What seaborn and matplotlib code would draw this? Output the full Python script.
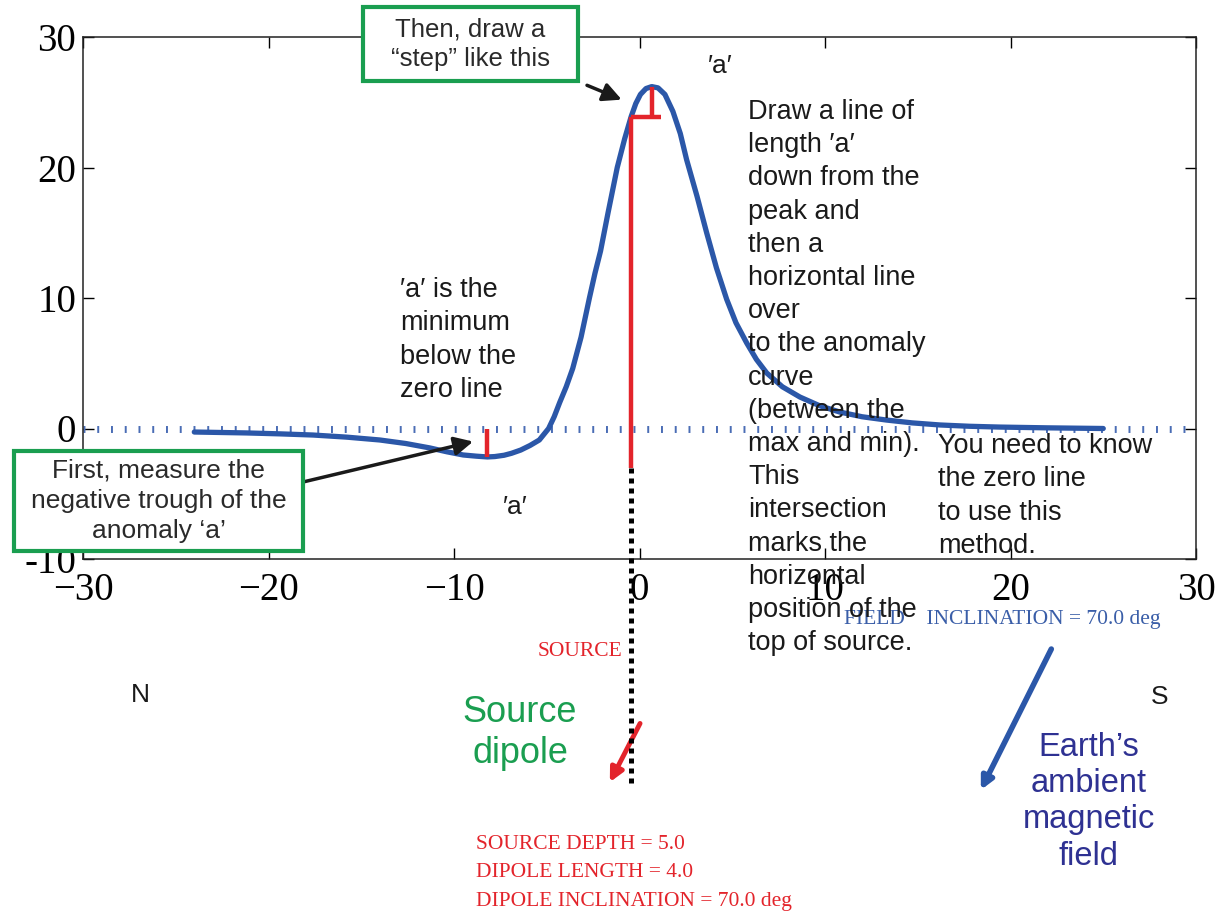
import matplotlib
matplotlib.use('Agg')
import matplotlib.pyplot as plt
from matplotlib.patches import Rectangle
import seaborn as sns
import pandas as pd

# ── Data ─────────────────────────────────────────────────────
dist = [-24.0, -21.2, -19.4, -17.6, -15.8, -14.0, -12.6, -11.3, -10.4, -9.5,
        -8.8, -8.2, -7.8, -7.3, -6.9, -6.4, -5.9, -5.4, -4.9, -4.6,
        -4.3, -3.95, -3.6, -3.15, -2.7, -2.4, -2.1, -1.7, -1.2, -0.8,
        -0.45, -0.2, 0.05, 0.35, 0.66, 1.0, 1.37, 1.8, 2.2, 2.54,
        3.1, 3.62, 4.15, 4.70, 5.2, 5.78, 6.3, 6.86, 7.7, 8.65,
        9.7, 10.8, 12.0, 13.3, 14.7, 16.2, 17.8, 19.4, 22.0, 25.0]
anomaly = [-0.27, -0.34, -0.41, -0.50, -0.66, -0.88, -1.15, -1.49, -1.78, -2.03,
           -2.12, -2.18, -2.15, -2.05, -1.90, -1.65, -1.30, -0.88, 0.0, 0.9,
           2.0, 3.2, 4.6, 7.0, 10.0, 11.9, 13.6, 16.5, 20.0, 22.2,
           23.9, 24.9, 25.6, 26.05, 26.2, 26.1, 25.6, 24.3, 22.6, 20.6,
           17.8, 15.0, 12.3, 9.9, 8.1, 6.55, 5.3, 4.25, 3.2, 2.41,
           1.75, 1.26, 0.9, 0.65, 0.43, 0.27, 0.17, 0.11, 0.05, 0.0]

x_ticks = [-30, -20, -10, 0, 10, 20, 30]
x_tick_labels = ['\u221230', '\u221220', '\u221210', '0', '10', '20', '30']
y_ticks = [-10, 0, 10, 20, 30]
y_tick_labels = ['-10', '0', '10', '20', '30']

peak_x, peak_y = 0.66, 26.2
trough_x, trough_y = -8.24, -2.18
step_y = 23.9
step_right = 1.16
source_x = -0.47
source_top = -3.0
source_bottom = -27.3

dipole_tail = (0.03, -22.6)
dipole_head = (-1.6, -27.1)
field_tail = (22.2, -16.9)
field_head = (18.4, -27.7)

W, H = 1218, 915

# ── Style ────────────────────────────────────────────────────
sns.set_style('ticks')
plt.rcParams['font.family'] = ['Liberation Sans', 'DejaVu Sans']
SERIF = ['Liberation Serif', 'DejaVu Serif']
BLUE = '#2b57a8'
RED = '#e3242b'
GREEN = '#1a9e50'
TXT = '#1a1a1a'

fig = plt.figure(figsize=(W / 100, H / 100), dpi=100)
ax = fig.add_axes([83 / W, 1 - 559 / H, 1113 / W, 522 / H])

df = pd.DataFrame({'x': dist, 'y': anomaly})
sns.lineplot(data=df, x='x', y='y', ax=ax, color=BLUE, linewidth=3.8,
             sort=False, zorder=3)

# zero line drawn as little vertical bars
ax.axhline(0, color='#4a6db5', linewidth=5, dashes=(0.28, 1.7),
           dash_capstyle='butt', zorder=2)

# step: down 'a' from the peak, then across to the curve
red = dict(color=RED, lw=3.2, zorder=4, solid_capstyle='butt')
ax.plot([peak_x, peak_x], [peak_y, step_y], **red)
ax.plot([source_x, step_right], [step_y, step_y], **red)
ax.plot([source_x, source_x], [step_y, source_top], **red)
ax.plot([trough_x, trough_x], [0, trough_y], **red)

# source position dotted line, runs below the axes
ax.plot([source_x, source_x], [source_top, source_bottom], color='black',
        lw=3.6, dashes=(1, 1), clip_on=False, zorder=4)

ax.set_xlim(-30, 30)
ax.set_ylim(-10, 30)
ax.set_xticks(x_ticks)
ax.set_xticklabels(x_tick_labels, family=SERIF, fontsize=28)
ax.set_yticks(y_ticks)
ax.set_yticklabels(y_tick_labels, family=SERIF, fontsize=28)
ax.tick_params(direction='in', length=8, width=1, top=True, right=True,
               colors='black')
ax.tick_params(axis='x', pad=9)
ax.tick_params(axis='y', pad=5)
ax.set_xlabel('')
ax.set_ylabel('')
for s in ax.spines.values():
    s.set_linewidth(1.1)
    s.set_color('#222222')

# ── Green boxes (sit on top of the frame) ────────────────────
for bx, by, bw, bh in [(363, 81, 215, 74), (14, 551, 289, 100)]:
    fig.add_artist(Rectangle((bx / W, 1 - by / H), bw / W, bh / H,
                             transform=fig.transFigure, fc='white', ec=GREEN,
                             lw=3, zorder=5))
fig.text(470.5 / W, 1 - 44 / H, 'Then, draw a\n\u201cstep\u201d like this',
         ha='center', va='center', fontsize=18.5, color='#2a2a2a',
         linespacing=1.28, zorder=6)
fig.text(158.5 / W, 1 - 501 / H,
         'First, measure the\nnegative trough of the\nanomaly \u2018a\u2019',
         ha='center', va='center', fontsize=19, color='#2a2a2a',
         linespacing=1.32, zorder=6)

arrow = dict(arrowstyle='-|>', color='#1a1a1a', lw=2.5, mutation_scale=28,
             shrinkA=0, shrinkB=0)
ax.annotate('', xy=(-8.97, -1.0), xytext=(-18.14, -4.1), arrowprops=arrow,
            zorder=5)
ax.annotate('', xy=(-0.96, 25.2), xytext=(-2.83, 26.3), arrowprops=arrow,
            zorder=5)

# ── Explanatory text ─────────────────────────────────────────
ax.text(4.34, 27.8, '\u2032a\u2032', ha='center', va='center', fontsize=19,
        color=TXT)
ax.text(-6.71, -6.0, '\u2032a\u2032', ha='center', va='center', fontsize=19,
        color=TXT)
ax.text(-12.9, 6.78, '\u2032a\u2032 is the\nminimum\nbelow the\nzero line',
        ha='left', va='center', fontsize=19.5, color=TXT, linespacing=1.36)
ax.text(5.85, 3.9,
        'Draw a line of\nlength \u2032a\u2032\ndown from the\npeak and\nthen a\n'
        'horizontal line\nover\nto the anomaly\ncurve\n(between the\n'
        'max and min).\nThis\nintersection\nmarks the\nhorizontal\n'
        'position of the\ntop of source.',
        ha='left', va='center', fontsize=19.5, color=TXT, linespacing=1.36,
        clip_on=False, zorder=5)
ax.text(16.1, -5.17, 'You need to know\nthe zero line\nto use this\nmethod.',
        ha='left', va='center', fontsize=19.5, color=TXT, linespacing=1.36,
        clip_on=False)

# below the axes
ax.text(-26.9, -20.4, 'N', ha='center', va='center', fontsize=19, color=TXT,
        clip_on=False)
ax.text(28.06, -20.6, 'S', ha='center', va='center', fontsize=19, color=TXT,
        clip_on=False)
ax.text(-0.94, -17.05, 'SOURCE', ha='right', va='center', family=SERIF,
        fontsize=15.5, color=RED, clip_on=False)
ax.text(-6.44, -23.3, 'Source\ndipole', ha='center', va='center', fontsize=26,
        color=GREEN, linespacing=1.22, clip_on=False)
ax.text(-8.81, -34.06,
        'SOURCE DEPTH = 5.0\nDIPOLE LENGTH = 4.0\nDIPOLE INCLINATION = 70.0 deg',
        ha='left', va='center', family=SERIF, fontsize=15.5, color=RED,
        linespacing=1.65, clip_on=False)
ax.text(11.0, -14.67, 'FIELD    INCLINATION = 70.0 deg', ha='left', va='center',
        family=SERIF, fontsize=15.5, color='#3a5ea8', clip_on=False, zorder=4)
ax.text(24.23, -28.6, 'Earth\u2019s\nambient\nmagnetic\nfield', ha='center',
        va='center', fontsize=23.5, color='#2e3192', linespacing=1.22,
        clip_on=False)

ax.annotate('', xy=dipole_head, xytext=dipole_tail, annotation_clip=False,
            arrowprops=dict(arrowstyle='-|>', color=RED, lw=3.5,
                            mutation_scale=20, shrinkA=0, shrinkB=0))
ax.annotate('', xy=field_head, xytext=field_tail, annotation_clip=False,
            arrowprops=dict(arrowstyle='-|>', color=BLUE, lw=4,
                            mutation_scale=18, shrinkA=0, shrinkB=0))

fig.savefig('out.png', dpi=100, facecolor='white')
